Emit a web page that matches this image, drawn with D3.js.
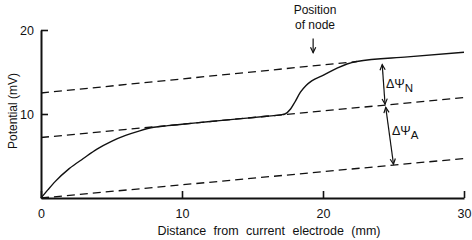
<!DOCTYPE html>
<html lang="en">
<head>
    <meta charset="UTF-8">
    <title></title>
    <style type="text/css">
        html, body { padding:0; margin:0; background:#fff; }
        text { font-family: "Liberation Sans", Arial, sans-serif; fill:#111; }
    </style>
</head>
<body>
<script src="https://d3js.org/d3.v7.min.js"></script>
<script>
    // measured potential along the fibre (mm, mV)
    var curveX = [0, 0.5, 1, 2, 3, 4, 5, 6, 7, 8, 9, 10, 12, 14, 16, 17, 17.3, 17.7, 18, 18.4, 18.8, 19.2, 20, 21, 21.7, 22.4, 26, 30];
    var curveY = [0, 1.0, 1.95, 3.5, 4.7, 5.85, 6.75, 7.45, 8.0, 8.42, 8.62, 8.78, 9.1, 9.42, 9.73, 9.9, 10.0, 10.6, 11.4, 12.6, 13.4, 13.95, 14.6, 15.45, 15.95, 16.25, 16.8, 17.35];

    // dashed reference lines
    var dashX0 = [0, 0, 0];
    var dashX1 = [22.4, 30, 30];
    var dashY0 = [12.5, 7.2, 0];
    var dashY1 = [16.25, 11.95, 4.7];

    var xTicks = [0, 10, 20, 30];
    var yTicks = [10, 20];

    var chart = {};

    chart.options = {
        width: 472,
        height: 240,
        left: 41,
        right: 464,
        top: 30,
        bottom: 198
    };

    chart.init = function() {
        var o = this.options;
        this.svg = d3.select('body').append('svg')
          .attr('width', o.width)
          .attr('height', o.height);

        this.x = d3.scaleLinear().domain([0, 30]).range([o.left, o.right]);
        this.y = d3.scaleLinear().domain([0, 20]).range([o.bottom, o.top]);

        this.renderAxes();
        this.renderLines();
        this.renderNotes();
    };

    chart.renderAxes = function() {
        var o = this.options, svg = this.svg;

        var xAxis = d3.axisBottom(this.x).tickValues(xTicks).tickSizeInner(-7).tickSizeOuter(0).tickPadding(11);
        var gx = svg.append('g')
          .attr('transform', 'translate(0,' + o.bottom + ')')
          .call(xAxis);

        var yAxis = d3.axisLeft(this.y).tickValues(yTicks).tickSizeInner(-7).tickSizeOuter(0).tickPadding(7);
        var gy = svg.append('g')
          .attr('transform', 'translate(' + o.left + ',0)')
          .call(yAxis);

        [gx, gy].forEach(function(g) {
            g.select('.domain').attr('stroke', '#111').attr('stroke-width', 2);
            g.selectAll('.tick line').attr('stroke', '#111').attr('stroke-width', 1.6);
            g.selectAll('.tick text').style('font-size', '12.5px').attr('fill', '#111');
        });

        svg.append('text')
          .attr('x', 269)
          .attr('y', 235)
          .attr('text-anchor', 'middle')
          .style('font-size', '12.5px')
          .style('word-spacing', '4px')
          .text('Distance from current electrode (mm)');

        svg.append('text')
          .attr('transform', 'translate(17,111) rotate(-90)')
          .attr('text-anchor', 'middle')
          .style('font-size', '12px')
          .text('Potential (mV)');
    };

    chart.renderLines = function() {
        var x = this.x, y = this.y, svg = this.svg;

        var dashes = dashX0.map(function(d, i) {
            return [[dashX0[i], dashY0[i]], [dashX1[i], dashY1[i]]];
        });

        svg.selectAll('.dash')
          .data(dashes)
          .enter().append('line')
          .attr('class', 'dash')
          .attr('x1', function(d) { return x(d[0][0]); })
          .attr('y1', function(d) { return y(d[0][1]); })
          .attr('x2', function(d) { return x(d[1][0]); })
          .attr('y2', function(d) { return y(d[1][1]); })
          .attr('stroke', '#111')
          .attr('stroke-width', 1.3)
          .attr('stroke-dasharray', '8,5');

        var line = d3.line()
          .x(function(d) { return x(d[0]); })
          .y(function(d) { return y(d[1]); })
          .curve(d3.curveMonotoneX);

        svg.append('path')
          .datum(curveX.map(function(d, i) { return [d, curveY[i]]; }))
          .attr('d', line)
          .attr('fill', 'none')
          .attr('stroke', '#111')
          .attr('stroke-width', 1.4);
    };

    chart.arrow = function(x1, y1, x2, y2, both) {
        var svg = this.svg;
        svg.append('line')
          .attr('x1', x1).attr('y1', y1).attr('x2', x2).attr('y2', y2)
          .attr('stroke', '#111').attr('stroke-width', 1.2);
        var head = function(tx, ty, fx, fy) {
            var a = Math.atan2(ty - fy, tx - fx), l = 6, w = 0.45;
            svg.append('path')
              .attr('d', 'M' + (tx - l * Math.cos(a - w)) + ',' + (ty - l * Math.sin(a - w)) +
                         'L' + tx + ',' + ty +
                         'L' + (tx - l * Math.cos(a + w)) + ',' + (ty - l * Math.sin(a + w)))
              .attr('fill', 'none').attr('stroke', '#111').attr('stroke-width', 1.2);
        };
        head(x2, y2, x1, y1);
        if (both) head(x1, y1, x2, y2);
    };

    chart.renderNotes = function() {
        var x = this.x, y = this.y, svg = this.svg;

        svg.append('text').attr('x', 315).attr('y', 14)
          .attr('text-anchor', 'middle').style('font-size', '12px').text('Position');
        svg.append('text').attr('x', 315).attr('y', 29)
          .attr('text-anchor', 'middle').style('font-size', '12px').text('of node');
        this.arrow(x(19.3), y(19.0), x(19.3), y(17.3), false);

        // potential steps between the lines
        this.arrow(x(24.2), y(16.0) + 1, x(24.4), y(11.05) - 1, true);
        this.arrow(x(24.45), y(10.9) + 1, x(25.0), y(3.9) - 1, true);

        var n = svg.append('text').attr('x', 386).attr('y', 88).style('font-size', '12.5px');
        n.append('tspan').text('\u0394\u03A8');
        n.append('tspan').attr('dy', 4).style('font-size', '11.5px').text('N');

        var a = svg.append('text').attr('x', 392).attr('y', 135).style('font-size', '12.5px');
        a.append('tspan').text('\u0394\u03A8');
        a.append('tspan').attr('dy', 4).style('font-size', '11.5px').text('A');
    };

    chart.init();
</script>
</body>
</html>
